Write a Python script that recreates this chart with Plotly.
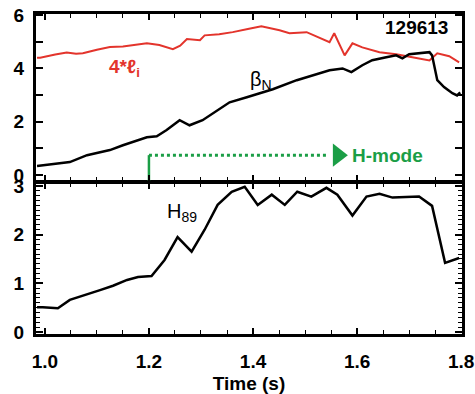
import plotly.graph_objects as go

# ---- data ----
li_t = [0.985, 0.991, 1.020, 1.042, 1.060, 1.073, 1.100, 1.125, 1.150, 1.175, 1.196,
        1.220, 1.246, 1.260, 1.273, 1.298, 1.307, 1.335, 1.361,
        1.390, 1.416, 1.451, 1.470, 1.503, 1.528, 1.547, 1.556, 1.576, 1.591, 1.610, 1.643,
        1.675, 1.706, 1.739, 1.754, 1.777, 1.796]
li_v = [4.40, 4.40, 4.52, 4.60, 4.55, 4.57, 4.70, 4.80, 4.82, 4.90, 4.94,
        4.88, 4.72, 4.85, 5.10, 5.06, 5.24, 5.28, 5.36,
        5.48, 5.58, 5.43, 5.32, 5.36, 5.13, 4.98, 5.32, 4.49, 4.94, 4.79, 4.61,
        4.53, 4.42, 4.30, 4.57, 4.46, 4.23]

bn_t = [0.985, 1.048, 1.081, 1.125, 1.150, 1.196, 1.215, 1.234, 1.259, 1.278, 1.303,
        1.355, 1.388, 1.438, 1.484, 1.522, 1.547, 1.572, 1.589, 1.610, 1.629, 1.656,
        1.675, 1.687, 1.700, 1.739, 1.744, 1.754, 1.767, 1.783, 1.792, 1.798]
bn_v = [0.34, 0.49, 0.75, 0.94, 1.12, 1.42, 1.46, 1.69, 2.06, 1.87, 2.06,
        2.73, 2.92, 3.22, 3.56, 3.78, 3.93, 4.00, 3.86, 4.12, 4.31, 4.42,
        4.49, 4.38, 4.53, 4.61, 4.49, 3.56, 3.30, 3.07, 2.99, 3.10]

h89_t = [0.985, 0.996, 1.025, 1.048, 1.106, 1.131, 1.158, 1.179, 1.205, 1.230, 1.255,
         1.282, 1.307, 1.332, 1.359, 1.374, 1.384, 1.409, 1.436, 1.461, 1.485, 1.512,
         1.541, 1.562, 1.591, 1.618, 1.643, 1.668, 1.719, 1.744, 1.769, 1.796]
h89_v = [0.51, 0.51, 0.49, 0.66, 0.86, 0.95, 1.07, 1.13, 1.15, 1.48, 1.95,
         1.65, 2.10, 2.61, 2.88, 2.94, 2.98, 2.61, 2.82, 2.61, 2.88, 2.78,
         2.96, 2.82, 2.39, 2.78, 2.84, 2.76, 2.78, 2.59, 1.42, 1.52]

hmode_start = 1.2
hmode_level = 0.75
hmode_arrow = 1.563

x_ticks = [1.0, 1.2, 1.4, 1.6, 1.8]
x_labels = ["1.0", "1.2", "1.4", "1.6", "1.8"]
top_ticks = [0, 2, 4, 6]
bot_ticks = [0, 1, 2, 3]
shot = "129613"

RED = "#e3342c"
GREEN = "#1b9e46"
FONT = "Liberation Sans, Arial, sans-serif"
FS = 19
tickfont = dict(family=FONT, size=FS, color="black", weight="bold")

fig = go.Figure()
fig.add_trace(go.Scatter(x=li_t, y=li_v, mode="lines", line=dict(color=RED, width=2),
                         xaxis="x2", yaxis="y2", showlegend=False))
fig.add_trace(go.Scatter(x=bn_t, y=bn_v, mode="lines", line=dict(color="black", width=2.5),
                         xaxis="x2", yaxis="y2", showlegend=False))
fig.add_trace(go.Scatter(x=[hmode_start, hmode_start], y=[-0.25, hmode_level], mode="lines",
                         line=dict(color=GREEN, width=2.5), xaxis="x2", yaxis="y2",
                         showlegend=False))
fig.add_trace(go.Scatter(x=[hmode_start, hmode_arrow - 0.02], y=[hmode_level, hmode_level],
                         mode="lines", line=dict(color=GREEN, width=3, dash="dot"),
                         xaxis="x2", yaxis="y2", showlegend=False))
fig.add_trace(go.Scatter(x=[hmode_arrow], y=[hmode_level], mode="markers",
                         marker=dict(symbol="triangle-right", size=20, color=GREEN),
                         xaxis="x2", yaxis="y2", showlegend=False))
fig.add_trace(go.Scatter(x=h89_t, y=h89_v, mode="lines", line=dict(color="black", width=2.5),
                         xaxis="x", yaxis="y", showlegend=False))

xr = [0.983, 1.8015]
common_x = dict(range=xr, showgrid=False, zeroline=False, showline=True, linewidth=3,
                linecolor="black", mirror="allticks", ticks="inside", ticklen=6,
                tickwidth=1.5, tickcolor="black", tickvals=x_ticks, automargin=False,
                minor=dict(ticks="inside", dtick=0.05, ticklen=4, tickcolor="black",
                           tickwidth=1.2))

fig.update_layout(
    width=475, height=394,
    margin=dict(l=36, r=13, t=14, b=60),
    plot_bgcolor="white", paper_bgcolor="white",
    xaxis=dict(**common_x, anchor="y", ticktext=x_labels, tickfont=tickfont,
               ticklabelstandoff=8,
               title=dict(text="Time (s)", font=dict(family=FONT, size=FS, color="black",
                                                     weight="bold"), standoff=6)),
    xaxis2=dict(**common_x, anchor="y2", showticklabels=False, matches="x"),
    yaxis=dict(domain=[0, 0.472], range=[-0.04, 3.06], tickvals=bot_ticks, automargin=False,
               showgrid=False, zeroline=False, showline=True, linewidth=3, linecolor="black",
               mirror="allticks", ticks="inside", ticklen=7, tickwidth=1.5, tickcolor="black",
               tickfont=tickfont, ticklabelstandoff=5,
               minor=dict(ticks="inside", dtick=0.1, ticklen=4, tickcolor="black",
                          tickwidth=1.2)),
    yaxis2=dict(domain=[0.478, 1], range=[-0.22, 6.04], tickvals=top_ticks, automargin=False,
                showgrid=False, zeroline=False, showline=True, linewidth=3, linecolor="black",
                mirror="allticks", ticks="inside", ticklen=7, tickwidth=1.5, tickcolor="black",
                tickfont=tickfont, ticklabelstandoff=5,
                minor=dict(ticks="inside", dtick=1, ticklen=7, tickcolor="black",
                           tickwidth=1.5)),
)

ann_font = dict(family=FONT, size=FS, weight="bold")
fig.add_annotation(x=1.779, y=5.54, xref="x2", yref="y2", text=shot, showarrow=False,
                   xanchor="right", yanchor="middle", font=dict(**ann_font, color="black"))
fig.add_annotation(x=1.119, y=4.0, xref="x2", yref="y2", text="4*ℓ<sub>i</sub>",
                   showarrow=False, xanchor="left", yanchor="middle",
                   font=dict(**ann_font, color=RED))
fig.add_annotation(x=1.390, y=3.56, xref="x2", yref="y2", text="β<sub>N</sub>",
                   showarrow=False, xanchor="left", yanchor="middle",
                   font=dict(family=FONT, size=FS + 1, color="black"))
fig.add_annotation(x=hmode_arrow + 0.024, y=hmode_level, xref="x2", yref="y2", text="H-mode",
                   showarrow=False, xanchor="left", yanchor="middle",
                   font=dict(**ann_font, color=GREEN))
fig.add_annotation(x=1.263, y=2.45, xref="x", yref="y", text="H<sub>89</sub>",
                   showarrow=False, xanchor="center", yanchor="middle",
                   font=dict(family=FONT, size=FS + 1, color="black"))

fig.write_html("out.html")
